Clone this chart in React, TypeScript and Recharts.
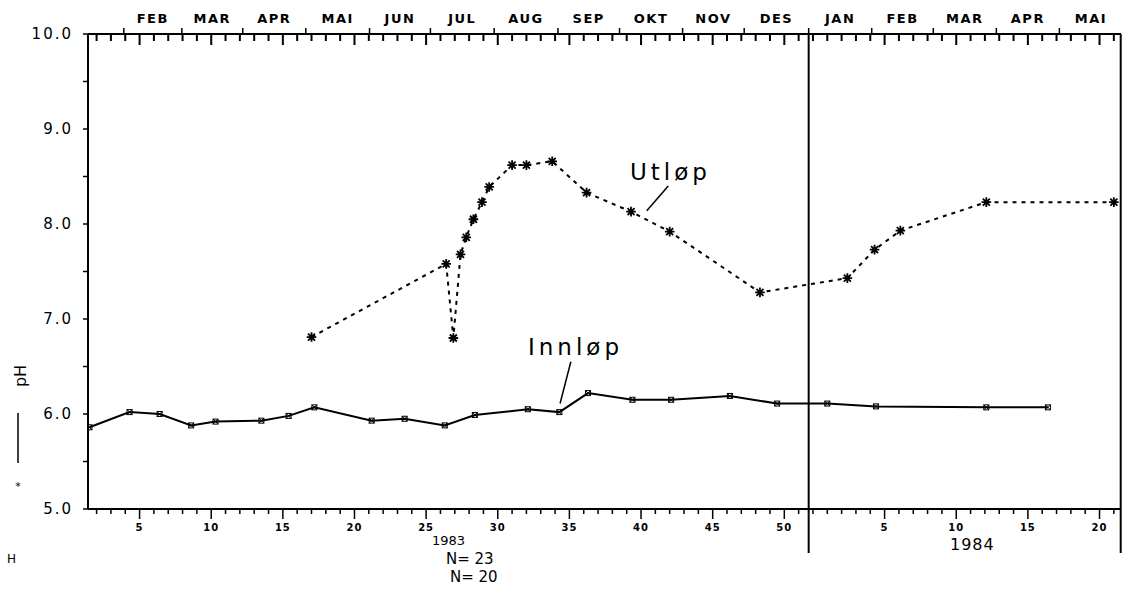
import React from 'react';
import { LineChart, Line, XAxis, YAxis, ReferenceLine } from 'recharts';

// x = week number counted from start of 1983 (1984 week w -> 52 + w)
const innlopWeek = [1.5, 4.3, 6.4, 8.6, 10.3, 13.5, 15.4, 17.2, 21.2, 23.5, 26.3, 28.4, 32.1, 34.3, 36.3, 39.4, 42.1, 46.2, 49.5, 53.0, 56.4, 64.1, 68.4];
const innlopPh = [5.86, 6.02, 6.0, 5.88, 5.92, 5.93, 5.98, 6.07, 5.93, 5.95, 5.88, 5.99, 6.05, 6.02, 6.22, 6.15, 6.15, 6.19, 6.11, 6.11, 6.08, 6.07, 6.07];

const utlopWeek = [17.0, 26.4, 26.9, 27.4, 27.8, 28.3, 28.9, 29.4, 31.0, 32.0, 33.8, 36.2, 39.3, 42.0, 48.3, 54.4, 56.3, 58.1, 64.1, 73.0];
const utlopPh = [6.81, 7.58, 6.8, 7.68, 7.86, 8.05, 8.23, 8.39, 8.62, 8.62, 8.66, 8.33, 8.13, 7.92, 7.28, 7.43, 7.73, 7.93, 8.23, 8.23];

// month boundaries on the same week scale
const monthStarts = [3.9, 7.95, 12.2, 16.6, 21.05, 25.3, 29.75, 34.2, 38.5, 42.9, 47.2, 51.7, 56.1, 60.4, 64.8, 69.2];
const monthEnd = 73.6;
const monthNames = ['FEB', 'MAR', 'APR', 'MAI', 'JUN', 'JUL', 'AUG', 'SEP', 'OKT', 'NOV', 'DES', 'JAN', 'FEB', 'MAR', 'APR', 'MAI'];
const yearBreak = 51.7;

const weekTicks = Array.from({ length: 72 }, (_, i) => i + 2);
const yTicks = [5, 5.5, 6, 6.5, 7, 7.5, 8, 8.5, 9, 9.5, 10];

const X_MIN = 1.4;
const X_MAX = 73.5;

const innlopData = innlopWeek.map((w, i) => ({ week: w, ph: innlopPh[i] }));
const utlopData = utlopWeek.map((w, i) => ({ week: w, ph: utlopPh[i] }));

const monthMids = monthStarts.map((s, i) => (s + (i + 1 < monthStarts.length ? monthStarts[i + 1] : monthEnd)) / 2);
const topTicks = [...monthStarts, ...monthMids];
const startSet = new Set(monthStarts);

const FONT = '"DejaVu Sans", sans-serif';

const weekNo = (t: number) => (t > 52 ? t - 52 : t);

const BottomTick = (p: any) => {
  const { x, y, payload } = p;
  const w = weekNo(payload.value);
  const major = w % 5 === 0;
  return (
    <g>
      <line x1={x} y1={y} x2={x} y2={y + (major ? 10 : 5)} stroke="#000" strokeWidth={1.5} />
      {major && (
        <text x={x} y={y + 22} textAnchor="middle" fontFamily={FONT} fontSize={10} fontWeight="bold" letterSpacing={1} fill="#000">
          {w}
        </text>
      )}
    </g>
  );
};

const TopTick = (p: any) => {
  const { x, y, payload } = p;
  const v = payload.value;
  if (startSet.has(v)) {
    return (
      <g>
        <line x1={x} y1={y} x2={x} y2={y - 6} stroke="#000" strokeWidth={1.5} />
      </g>
    );
  }
  const mi = monthMids.indexOf(v);
  return (
    <g>
      <text x={x} y={y - 11} textAnchor="middle" fontFamily={FONT} fontSize={13} fontWeight="bold" letterSpacing={1.5} fill="#000">
        {mi >= 0 ? monthNames[mi] : ''}
      </text>
    </g>
  );
};

// inward week marks hanging from the top axis
const topWeekMark = (w: number) => (p: any) => {
  const top = Number(p.y2) < Number(p.y1) ? Number(p.y2) : Number(p.y1);
  const len = weekNo(w) % 5 === 0 ? 11 : 7;
  return (
    <g>
      <rect x={Number(p.x1) - 1} y={top} width={2} height={len} fill="#000" stroke="none" />
    </g>
  );
};

const LeftTick = (p: any) => {
  const { x, y, payload } = p;
  const v = payload.value;
  const major = Number.isInteger(v);
  return (
    <g>
      <line x1={x} y1={y} x2={x - 5} y2={y} stroke="#000" strokeWidth={1.5} />
      {major && (
        <text x={x - 15} y={y + 5} textAnchor="end" fontFamily={FONT} fontSize={15} letterSpacing={2} fill="#000">
          {v.toFixed(1)}
        </text>
      )}
    </g>
  );
};

const innDot = (p: any) => {
  const { cx, cy } = p;
  const r = 2.5;
  return (
    <g key={`in-${p.index}`}>
      <rect x={cx - r} y={cy - r} width={2 * r} height={2 * r} fill="none" stroke="#000" strokeWidth={1} />
      <path d={`M${cx - r},${cy - r}L${cx + r},${cy + r}M${cx + r},${cy - r}L${cx - r},${cy + r}`} stroke="#000" strokeWidth={1} />
    </g>
  );
};

const utDot = (p: any) => {
  const { cx, cy } = p;
  const r = 4.8;
  const d = 3.5;
  return (
    <path
      key={`ut-${p.index}`}
      d={`M${cx - r},${cy}L${cx + r},${cy}M${cx},${cy - r}L${cx},${cy + r}M${cx - d},${cy - d}L${cx + d},${cy + d}M${cx + d},${cy - d}L${cx - d},${cy + d}`}
      stroke="#000"
      strokeWidth={1.8}
      strokeDasharray="none"
      fill="none"
    />
  );
};

// vertical rules that run below the bottom axis
const longRule = (p: any) => {
  const top = Math.min(p.y1, p.y2);
  const bottom = Math.max(p.y1, p.y2);
  return <line x1={p.x1} y1={top} x2={p.x2} y2={bottom + 44} stroke="#000" strokeWidth={2} />;
};

export default function App() {
  return (
    <div style={{ position: 'absolute', left: 0, top: 0, width: 1130, height: 590, background: '#fff' }}>
      <svg width={1130} height={590} style={{ position: 'absolute', left: 0, top: 0, pointerEvents: 'none' }}>
        <g fontFamily={FONT} fill="#000">
          <text x={630} y={180} fontSize={23} letterSpacing={4}>Utløp</text>
          <text x={528} y={355} fontSize={23} letterSpacing={4}>Innløp</text>
          <text x={432} y={545} fontSize={13}>1983</text>
          <text x={446} y={564} fontSize={15}>N= 23</text>
          <text x={450} y={582} fontSize={15}>N= 20</text>
          <text x={950} y={550} fontSize={16} letterSpacing={1}>1984</text>
          <text x={7} y={563} fontSize={12}>H</text>
          <text x={26} y={376} fontSize={16} textAnchor="middle" transform="rotate(-90 26 376)">pH</text>
          <text x={18} y={490} fontSize={11} textAnchor="middle">*</text>
        </g>
        <line x1={18} y1={413} x2={18} y2={463} stroke="#000" strokeWidth={1.5} />
      </svg>
      <LineChart width={1130} height={590} margin={{ top: 4, right: 9, bottom: 51, left: 28 }}>
        <XAxis
          xAxisId="b"
          dataKey="week"
          type="number"
          domain={[X_MIN, X_MAX]}
          allowDataOverflow
          ticks={weekTicks}
          interval={0}
          height={30}
          tickSize={0}
          tickMargin={0}
          tickLine={false}
          tick={<BottomTick />}
          axisLine={{ stroke: '#000', strokeWidth: 2 }}
        />
        <XAxis
          xAxisId="t"
          orientation="top"
          dataKey="week"
          type="number"
          domain={[X_MIN, X_MAX]}
          allowDataOverflow
          ticks={topTicks}
          interval={0}
          height={30}
          tickSize={0}
          tickMargin={0}
          tickLine={false}
          tick={<TopTick />}
          axisLine={{ stroke: '#000', strokeWidth: 2 }}
        />
        <YAxis
          yAxisId="l"
          type="number"
          domain={[5, 10]}
          allowDataOverflow
          ticks={yTicks}
          interval={0}
          width={60}
          tickSize={0}
          tickMargin={0}
          tickLine={false}
          tick={<LeftTick />}
          axisLine={{ stroke: '#000', strokeWidth: 2 }}
        />
        {weekTicks.map((w) => (
          <ReferenceLine key={`tw-${w}`} xAxisId="b" yAxisId="l" x={w} ifOverflow="visible" shape={topWeekMark(w)} />
        ))}
        <ReferenceLine xAxisId="b" yAxisId="l" x={yearBreak} shape={longRule} />
        <ReferenceLine xAxisId="b" yAxisId="l" x={X_MAX - 0.02} shape={longRule} />
        <ReferenceLine
          xAxisId="b"
          yAxisId="l"
          segment={[{ x: 41.9, y: 8.4 }, { x: 40.4, y: 8.14 }]}
          stroke="#000"
          strokeWidth={1.5}
        />
        <ReferenceLine
          xAxisId="b"
          yAxisId="l"
          segment={[{ x: 35.1, y: 6.55 }, { x: 34.35, y: 6.11 }]}
          stroke="#000"
          strokeWidth={1.5}
        />
        <Line
          xAxisId="b"
          yAxisId="l"
          data={innlopData}
          dataKey="ph"
          type="linear"
          stroke="#000"
          strokeWidth={2}
          dot={innDot}
          activeDot={false}
          isAnimationActive={false}
        />
        <Line
          xAxisId="b"
          yAxisId="l"
          data={utlopData}
          dataKey="ph"
          type="linear"
          stroke="#000"
          strokeWidth={2}
          strokeDasharray="4 5"
          dot={utDot}
          activeDot={false}
          isAnimationActive={false}
        />
      </LineChart>
    </div>
  );
}
